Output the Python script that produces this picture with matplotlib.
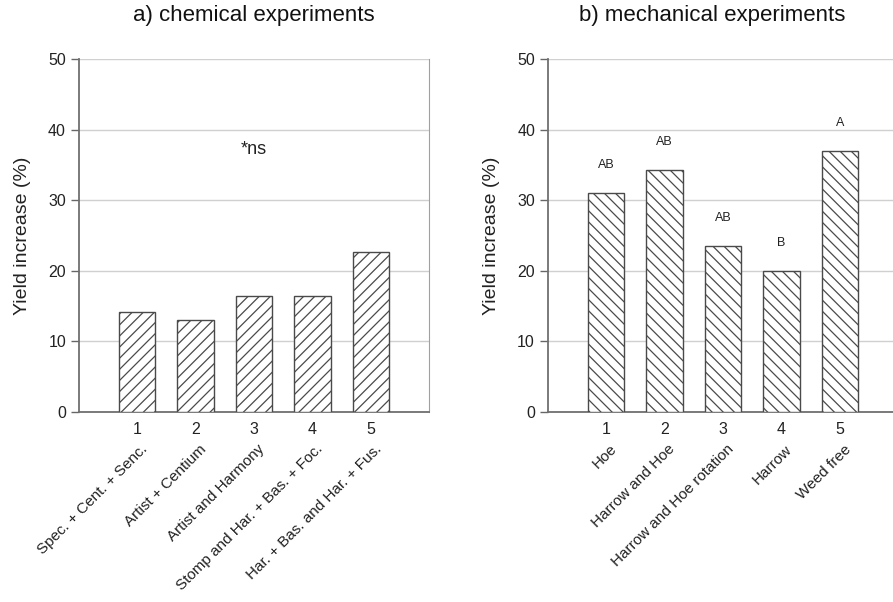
import matplotlib
matplotlib.use("Agg")
import matplotlib.pyplot as plt
import matplotlib.transforms as mtransforms
import numpy as np

plt.rcParams["font.family"] = ["Liberation Sans", "DejaVu Sans"]
plt.rcParams["hatch.linewidth"] = 0.9
plt.rcParams["hatch.color"] = "#555555"

positions = [1, 2, 3, 4, 5]

chem_labels = ["Spec. + Cent. + Senc.", "Artist + Centium", "Artist and Harmony",
               "Stomp and Har. + Bas. + Foc.", "Har. + Bas. and Har. + Fus."]
chem_values = [14.2, 13.0, 16.5, 16.5, 22.7]

mech_labels = ["Hoe", "Harrow and Hoe", "Harrow and Hoe rotation", "Harrow", "Weed free"]
mech_values = [31.0, 34.3, 23.5, 20.0, 36.9]
mech_letters = ["AB", "AB", "AB", "B", "A"]

fig = plt.figure(figsize=(8.93, 6.02), dpi=100)

W, H = 893, 602
ax1 = fig.add_axes([78.5 / W, 1 - 412 / H, 351 / W, 353 / H])
ax2 = fig.add_axes([547.5 / W, 1 - 412 / H, 351 / W, 353 / H])


def style(ax, labels, values, hatch, title, title_x):
    ax.bar(positions, values, width=0.62, color="white", edgecolor="#4a4a4a",
           hatch=hatch, linewidth=1.0, zorder=3)
    ax.set_xlim(0, 6)
    ax.set_ylim(0, 50)
    ax.set_yticks([0, 10, 20, 30, 40, 50])
    ax.set_xticks(positions)
    ax.tick_params(axis="x", length=0, labelsize=11.5, pad=7, colors="#222222")
    ax.tick_params(axis="y", length=6, width=1, labelsize=11.5, colors="#222222",
                   direction="out", pad=3)
    ax.tick_params(axis="y", color="#666666")
    ax.grid(axis="y", color="#d0d0d0", linewidth=1.0, zorder=0)
    for side in ["left", "bottom"]:
        ax.spines[side].set_color("#707070")
        ax.spines[side].set_linewidth(1.3)
    ax.spines["top"].set_visible(False)
    ax.spines["right"].set_color("#a0a0a0")
    ax.set_ylabel("Yield increase (%)", fontsize=14, color="#222222", labelpad=12)
    ax.set_title(title, fontsize=16, x=title_x, pad=27, color="#111111")

    trans = mtransforms.blended_transform_factory(ax.transData, ax.transAxes)
    for p, lab in zip(positions, labels):
        ax.text(p + 0.06, -0.085, lab, transform=trans, rotation=45,
                ha="right", va="top", rotation_mode="anchor", fontsize=11,
                color="#222222")


style(ax1, chem_labels, chem_values, "///", "a) chemical experiments", 0.5)
style(ax2, mech_labels, mech_values, "\\\\\\", "b) mechanical experiments", 0.47)

ax1.text(3, 37.2, "*ns", ha="center", va="center", fontsize=13, color="#222222")

for p, v, let in zip(positions, mech_values, mech_letters):
    ax2.text(p, v + 4, let, ha="center", va="center", fontsize=9, color="#222222")

fig.savefig("out.png", dpi=100)
